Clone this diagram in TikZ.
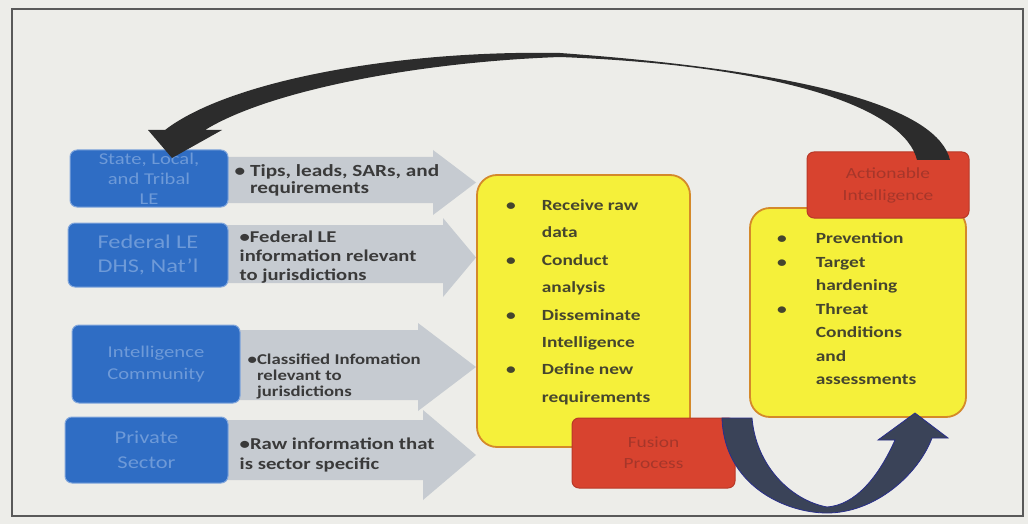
\documentclass[tikz,border=0pt]{standalone}
\usepackage{fontspec}
\setmainfont{Carlito}[FakeStretch=1.25]
\usetikzlibrary{positioning,backgrounds}
\definecolor{paper}{HTML}{EDEDE9}
\definecolor{srcblue}{HTML}{2F6DC4}
\definecolor{srcink}{HTML}{6E9AD8}
\definecolor{infogray}{HTML}{C6CBD1}
\definecolor{infoink}{HTML}{3A3A3A}
\definecolor{stepyellow}{HTML}{F5F03A}
\definecolor{steporange}{HTML}{D4892A}
\definecolor{stepink}{HTML}{45452E}
\definecolor{tagred}{HTML}{D8432F}
\definecolor{tagink}{HTML}{A6362A}
\definecolor{loopdark}{HTML}{2C2C2C}
\definecolor{loopnavy}{HTML}{3A4358}

\begin{document}
\begin{tikzpicture}[x=1pt, y=-1pt,
    source/.style={fill=srcblue, draw=srcblue!60!white, line width=1pt, rounded corners=7pt,
        text=srcink, align=center, inner sep=0pt},
    info/.style={text=infoink, align=left, inner sep=0pt},
    panel/.style={fill=stepyellow, draw=steporange, line width=1.8pt, rounded corners=20pt},
    steptext/.style={text=stepink, inner sep=0pt, font=\bfseries\fontsize{15.5}{27.4}\selectfont},
    tag/.style={fill=tagred, draw=tagred!85!black, line width=1pt, rounded corners=7pt,
        text=tagink, align=center, inner sep=0pt}]

    \useasboundingbox (0,0) rectangle (1028,524);
    \fill[paper] (0,0) rectangle (1028,524);
    \draw[black!65, line width=1.2pt] (12,9) rectangle (1023,516);

    % grey block arrows behind the sources
    \foreach \bt/\bb/\hx/\ht/\hb in {157/203/433/150/215, 225/283/443/218/297,
        330/400/418/323/411, 420/480/423/410/500}
        \fill[infogray] (220,\bt) -- (\hx,\bt) -- (\hx,\ht) -- (476,{(\ht+\hb)/2})
            -- (\hx,\hb) -- (\hx,\bb) -- (220,\bb) -- cycle;

    \node[source, minimum width=158pt, minimum height=57pt,
        font=\fontsize{16.5}{20}\selectfont] (state) at (149,178.5) {State, Local,\\and Tribal\\LE};
    \node[source, minimum width=160pt, minimum height=64pt,
        font=\fontsize{19.5}{24}\selectfont] (federal) at (148,255) {Federal LE\\DHS, Nat'l};
    \node[source, minimum width=168pt, minimum height=78pt,
        font=\fontsize{16.5}{22}\selectfont] (intel) at (156,364) {Intelligence\\Community};
    \node[source, minimum width=163pt, minimum height=66pt,
        font=\fontsize{18}{25}\selectfont] (private) at (146.5,450) {Private\\Sector};

    \node[info, right=6pt of state, yshift=-2pt, font=\bfseries\fontsize{17}{17}\selectfont] (tips)
        {• Tips, leads, SARs, and\\\hphantom{• }requirements};
    \node[info, right=11pt of federal, yshift=-2pt, font=\bfseries\fontsize{16.5}{19}\selectfont] (fedinfo)
        {•Federal LE\\information relevant\\to jurisdictions};
    \node[info, right=7pt of intel, yshift=-12pt, font=\bfseries\fontsize{15}{16}\selectfont] (classified)
        {•Classified Infomation\\\hphantom{•}relevant to\\\hphantom{•}jurisdictions};
    \node[info, right=11pt of private, yshift=-5pt, font=\bfseries\fontsize{16.6}{20}\selectfont] (rawinfo)
        {•Raw information that\\is sector specific};

    % yellow panels
    \node[panel, minimum width=213pt, minimum height=272pt] (steps) at (583.5,311) {};
    \node[panel, minimum width=216pt, minimum height=209pt] (outcomes) at (858,312.5) {};

    \node[steptext, anchor=west] (steplist) at (506,301)
        {\begin{tabular}{@{}l@{\hspace{26pt}}l@{}}
            • & Receive raw\\ & data\\
            • & Conduct\\ & analysis\\
            • & Disseminate\\ & Intelligence\\
            • & Define new\\ & requirements
        \end{tabular}};
    \node[steptext, anchor=west, font=\bfseries\fontsize{15.5}{23.5}\selectfont] (outcomelist) at (777,309.5)
        {\begin{tabular}{@{}l@{\hspace{29pt}}l@{}}
            • & Prevention\\
            • & Target\\ & hardening\\
            • & Threat\\ & Conditions\\ & and\\ & assessments
        \end{tabular}};

    % red tags
    \node[tag, minimum width=163pt, minimum height=70pt,
        font=\fontsize{15.5}{21}\selectfont] (fusion) at (653.5,453) {Fusion\\Process};
    \node[tag, minimum width=162pt, minimum height=66pt,
        font=\fontsize{15.5}{22}\selectfont] (actionable) at (888,185) {Actionable\\Intelligence};

    % feedback arrow over the top
    \fill[loopdark] (950,160) .. controls (938,110) and (820,72) .. (560,53)
        .. controls (400,50) and (230,80) .. (165,130) -- (148,130) -- (172,158)
        -- (222,130) -- (205,130) .. controls (270,90) and (420,62) .. (560,57)
        .. controls (790,66) and (905,110) .. (917,160) -- cycle;

    % fusion loop arrow
    \filldraw[fill=loopnavy, draw=loopnavy!70!blue, line width=0.8pt]
        (722,418) .. controls (724,485) and (785,513) .. (827,513)
        .. controls (875,513) and (918,475) .. (932,438) -- (948,438) -- (915,413)
        -- (878,440) -- (895,440) .. controls (878,478) and (855,505) .. (827,507)
        .. controls (790,500) and (756,465) .. (752,418) -- cycle;
\end{tikzpicture}
\end{document}
